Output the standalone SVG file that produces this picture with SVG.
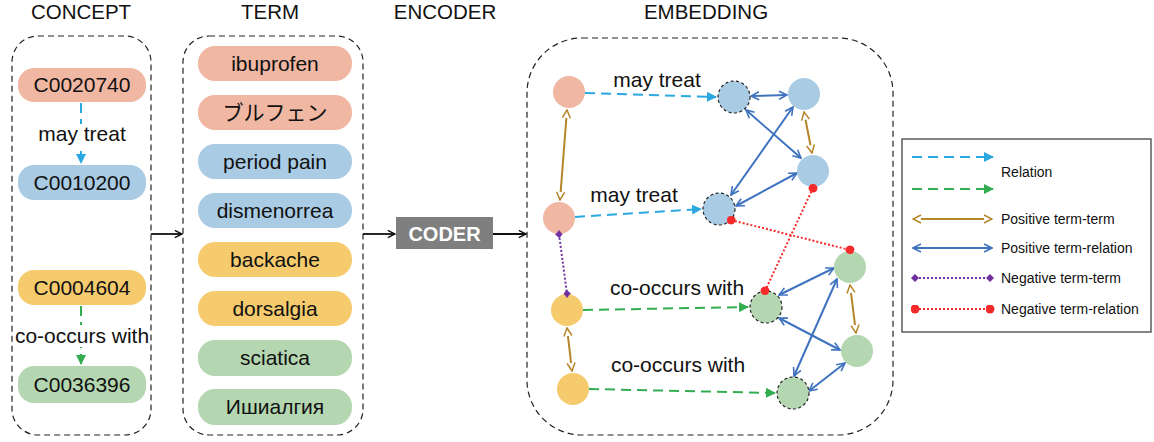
<svg xmlns="http://www.w3.org/2000/svg" width="1154" height="442" viewBox="0 0 1154 442">
<defs>
<style>
text{font-family:"Liberation Sans",Arial,"Noto Sans CJK JP",sans-serif;fill:#111}
.hdr{font-size:20.5px;text-anchor:middle}
.lbl{font-size:21px;text-anchor:middle}
.leg{font-size:14px}
.frame{fill:none;stroke:#222;stroke-width:1.2;stroke-dasharray:6 4}
.salmon{fill:#f0b7a3}
.blue{fill:#a9cbe3}
.yellow{fill:#f5cb6e}
.green{fill:#b4d6b0}
.emb{stroke:#222;stroke-width:1.2;stroke-dasharray:3 2.5}
.rel-c{stroke:#2aa8df;stroke-width:2;stroke-dasharray:10 6;fill:none;marker-end:url(#triC)}
.rel-g{stroke:#34ad52;stroke-width:2;stroke-dasharray:10 6;fill:none;marker-end:url(#triG)}
.ptt{stroke:#b5852a;stroke-width:2;fill:none;marker-start:url(#openGold);marker-end:url(#openGold)}
.ptr{stroke:#3f73c0;stroke-width:2;fill:none;marker-start:url(#openBlue);marker-end:url(#openBlue)}
.ntt{stroke:#7030a0;stroke-width:2;stroke-dasharray:2 2;fill:none;marker-start:url(#dia);marker-end:url(#dia)}
.ntr{stroke:#f52a2a;stroke-width:2;stroke-dasharray:2 2;fill:none;marker-start:url(#dot);marker-end:url(#dot)}
.blk{stroke:#111;stroke-width:1.8;fill:none;marker-end:url(#openBlk)}
</style>
<marker id="triC" viewBox="0 0 10 10" refX="9" refY="5" markerWidth="5" markerHeight="5" orient="auto" markerUnits="strokeWidth"><path d="M0,0L10,5L0,10z" fill="#2aa8df"/></marker>
<marker id="triG" viewBox="0 0 10 10" refX="9" refY="5" markerWidth="5" markerHeight="5" orient="auto" markerUnits="strokeWidth"><path d="M0,0L10,5L0,10z" fill="#34ad52"/></marker>
<marker id="openGold" viewBox="0 0 10 10" refX="9" refY="5" markerWidth="5" markerHeight="5" orient="auto-start-reverse" markerUnits="strokeWidth"><path d="M1,1L9,5L1,9" fill="#fff" stroke="#b5852a" stroke-width="1.5"/></marker>
<marker id="openBlue" viewBox="0 0 10 10" refX="9" refY="5" markerWidth="5" markerHeight="5" orient="auto-start-reverse" markerUnits="strokeWidth"><path d="M1,1L9,5L1,9" fill="none" stroke="#3f73c0" stroke-width="1.6"/></marker>
<marker id="openBlk" viewBox="0 0 10 10" refX="9" refY="5" markerWidth="5" markerHeight="5" orient="auto" markerUnits="strokeWidth"><path d="M1,1L9,5L1,9" fill="none" stroke="#111" stroke-width="1.6"/></marker>
<marker id="dia" viewBox="0 0 10 10" refX="5" refY="5" markerWidth="4" markerHeight="4" orient="auto" markerUnits="strokeWidth"><path d="M5,0L10,5L5,10L0,5z" fill="#7030a0"/></marker>
<marker id="dot" viewBox="0 0 10 10" refX="5" refY="5" markerWidth="4.5" markerHeight="4.5" orient="auto" markerUnits="strokeWidth"><circle cx="5" cy="5" r="5" fill="#f52a2a"/></marker>
</defs>
<rect width="1154" height="442" fill="#fff"/>

<g id="headers">
<text class="hdr" x="81" y="19">CONCEPT</text>
<text class="hdr" x="270" y="19">TERM</text>
<text class="hdr" x="445" y="19">ENCODER</text>
<text class="hdr" x="706" y="19">EMBEDDING</text>
</g>

<g id="concept-panel">
<rect class="frame" x="12" y="36" width="139" height="399" rx="26"/>
</g>
<g id="term-panel">
<rect class="frame" x="183" y="36" width="180" height="399" rx="26"/>
</g>
<g id="embedding-panel">
<rect class="frame" x="527" y="38" width="366" height="397" rx="55"/>
</g>

<g id="connectors">
<line class="rel-c" x1="81" y1="103" x2="81" y2="163"/>
<line class="rel-g" x1="81" y1="306" x2="81" y2="364"/>
<line class="blk" x1="151" y1="234" x2="182" y2="234"/>
<line class="blk" x1="363" y1="234" x2="395" y2="234"/>
<line class="blk" x1="493" y1="234" x2="526" y2="234"/>
<line class="rel-c" x1="585" y1="93" x2="716" y2="97"/>
<line class="rel-c" x1="575" y1="217" x2="701" y2="209"/>
<line class="rel-g" x1="583" y1="310" x2="748" y2="307"/>
<line class="rel-g" x1="589" y1="389" x2="775" y2="393"/>
<line class="ptt" x1="567" y1="110" x2="560" y2="200"/>
<line class="ptt" x1="804" y1="112" x2="812" y2="153"/>
<line class="ptt" x1="567" y1="328" x2="572" y2="371"/>
<line class="ptt" x1="850" y1="285" x2="856" y2="333"/>
<line class="ptr" x1="751" y1="96" x2="787" y2="95"/>
<line class="ptr" x1="746" y1="110" x2="801" y2="158"/>
<line class="ptr" x1="793" y1="107" x2="731" y2="195"/>
<line class="ptr" x1="797" y1="173" x2="736" y2="206"/>
<line class="ptr" x1="779" y1="295" x2="834" y2="268"/>
<line class="ptr" x1="779" y1="318" x2="840" y2="350"/>
<line class="ptr" x1="837" y1="279" x2="794" y2="376"/>
<line class="ptr" x1="845" y1="363" x2="809" y2="391"/>
<line class="ntt" x1="559" y1="234" x2="567" y2="294"/>
<line class="ntr" x1="731" y1="220" x2="850" y2="250"/>
<line class="ntr" x1="813" y1="188" x2="765" y2="291"/>
</g>

<g id="concept-labels">
<rect x="72" y="124" width="20" height="22" fill="#fff"/>
<text class="lbl" x="82" y="141">may treat</text>
<rect x="70" y="325" width="24" height="22" fill="#fff"/>
<text class="lbl" x="82" y="343">co-occurs with</text>
</g>

<g id="C0020740"><rect class="salmon" x="18" y="68" width="128" height="34" rx="16"/><text class="lbl" x="82" y="92">C0020740</text></g>
<g id="C0010200"><rect class="blue" x="18" y="165" width="128" height="35" rx="16"/><text class="lbl" x="82" y="190">C0010200</text></g>
<g id="C0004604"><rect class="yellow" x="18" y="270" width="128" height="35" rx="16"/><text class="lbl" x="82" y="295">C0004604</text></g>
<g id="C0036396"><rect class="green" x="18" y="366" width="128" height="37" rx="16"/><text class="lbl" x="82" y="392">C0036396</text></g>

<g id="term-ibuprofen"><rect class="salmon" x="198" y="46" width="154" height="35" rx="17"/><text class="lbl" x="275" y="71">ibuprofen</text></g>
<g id="term-burufen"><rect class="salmon" x="198" y="95" width="154" height="35" rx="17"/><text class="lbl" x="275" y="120">ブルフェン</text></g>
<g id="term-period-pain"><rect class="blue" x="198" y="144" width="154" height="35" rx="17"/><text class="lbl" x="275" y="169">period pain</text></g>
<g id="term-dismenorrea"><rect class="blue" x="198" y="193" width="154" height="35" rx="17"/><text class="lbl" x="275" y="218">dismenorrea</text></g>
<g id="term-backache"><rect class="yellow" x="198" y="242" width="154" height="35" rx="17"/><text class="lbl" x="275" y="267">backache</text></g>
<g id="term-dorsalgia"><rect class="yellow" x="198" y="291" width="154" height="35" rx="17"/><text class="lbl" x="275" y="316">dorsalgia</text></g>
<g id="term-sciatica"><rect class="green" x="198" y="340" width="154" height="36" rx="17"/><text class="lbl" x="275" y="365">sciatica</text></g>
<g id="term-ishialgiya"><rect class="green" x="198" y="389" width="154" height="36" rx="17"/><text class="lbl" x="275" y="414">Ишиалгия</text></g>

<g id="coder"><rect x="396" y="217" width="97" height="32" fill="#7f7f80"/><text x="444.5" y="241" text-anchor="middle" font-size="20" font-weight="bold" style="fill:#fff">CODER</text></g>

<g id="embedding-labels">
<text class="lbl" x="657" y="87">may treat</text>
<text class="lbl" x="634" y="202">may treat</text>
<text class="lbl" x="677" y="295">co-occurs with</text>
<text class="lbl" x="678" y="372">co-occurs with</text>
</g>

<g id="e-pink1"><circle class="salmon" cx="569" cy="92" r="16"/></g>
<g id="e-pink2"><circle class="salmon" cx="559" cy="218" r="16"/></g>
<g id="e-blue1"><circle class="blue emb" cx="734" cy="97" r="16"/></g>
<g id="e-blue2"><circle class="blue" cx="804" cy="94" r="16"/></g>
<g id="e-blue3"><circle class="blue" cx="813" cy="171" r="16"/></g>
<g id="e-blue4"><circle class="blue emb" cx="719" cy="209" r="16"/></g>
<g id="e-yellow1"><circle class="yellow" cx="567" cy="310" r="16"/></g>
<g id="e-yellow2"><circle class="yellow" cx="573" cy="389" r="16"/></g>
<g id="e-green1"><circle class="green emb" cx="766" cy="307" r="16"/></g>
<g id="e-green2"><circle class="green" cx="850" cy="267" r="16"/></g>
<g id="e-green3"><circle class="green" cx="857" cy="351" r="16"/></g>
<g id="e-green4"><circle class="green emb" cx="793" cy="393" r="16"/></g>

<g id="negative-endpoints">
<circle cx="731" cy="220" r="4" fill="#f52a2a"/>
<circle cx="850" cy="250" r="4" fill="#f52a2a"/>
<circle cx="813" cy="188" r="4" fill="#f52a2a"/>
<circle cx="765" cy="291" r="4" fill="#f52a2a"/>
<path d="M559,230L562,234L559,238L556,234z" fill="#7030a0"/>
<path d="M567,290L570,294L567,298L564,294z" fill="#7030a0"/>
</g>

<g id="legend">
<rect x="902" y="139" width="249" height="193" fill="#fff" stroke="#333" stroke-width="1.2"/>
<line class="rel-c" x1="912" y1="157" x2="993" y2="157"/>
<line class="rel-g" x1="912" y1="189" x2="993" y2="189"/>
<text class="leg" x="1001" y="177">Relation</text>
<line class="ptt" x1="913" y1="219" x2="992" y2="219"/>
<text class="leg" x="1001" y="224">Positive term-term</text>
<line class="ptr" x1="913" y1="248" x2="992" y2="248"/>
<text class="leg" x="1001" y="253">Positive term-relation</text>
<line class="ntt" x1="915" y1="278" x2="990" y2="278"/>
<text class="leg" x="1001" y="283">Negative term-term</text>
<line class="ntr" x1="915" y1="309" x2="990" y2="309"/>
<text class="leg" x="1001" y="314">Negative term-relation</text>
</g>
</svg>
